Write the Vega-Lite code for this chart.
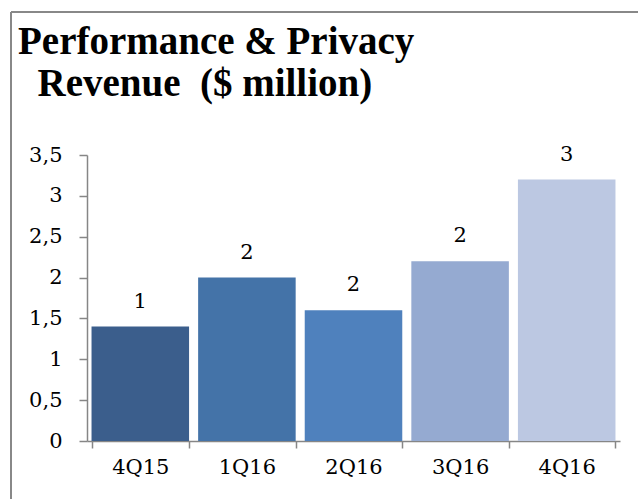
{
  "$schema": "https://vega.github.io/schema/vega-lite/v6.json",
  "width": 627,
  "height": 487,
  "autosize": {"type": "none"},
  "padding": {"left": 11, "top": 12, "right": 0, "bottom": 0},
  "background": "white",
  "config": {
    "view": {"stroke": "#888888", "strokeWidth": 2, "strokeDash": [627, 1114, 487, 0]}
  },
  "title": {
    "text": ["Performance & Privacy", "\u200b\u00a0\u00a0Revenue\u00a0\u00a0($ million)"],
    "anchor": "start",
    "frame": "group",
    "orient": "top",
    "baseline": "alphabetic",
    "offset": -40,
    "dx": 7,
    "dy": 83,
    "font": "Liberation Serif",
    "fontSize": 39,
    "fontWeight": "bold",
    "color": "#000000",
    "lineHeight": 42
  },
  "data": {
    "values": [
      {"q": "4Q15", "v": 1.4},
      {"q": "1Q16", "v": 2.0},
      {"q": "2Q16", "v": 1.6},
      {"q": "3Q16", "v": 2.2},
      {"q": "4Q16", "v": 3.2}
    ]
  },
  "encoding": {
    "x": {
      "field": "q",
      "type": "nominal",
      "sort": null,
      "scale": {"range": [76, 609], "paddingInner": 0.085, "paddingOuter": 0.0425},
      "axis": {
        "orient": "bottom",
        "offset": -58,
        "title": null,
        "labelAngle": 0,
        "tickBand": "extent",
        "tickSize": 7,
        "tickColor": "#868686",
        "domainColor": "#868686",
        "domainWidth": 1.5,
        "tickWidth": 1.5,
        "labelFont": "DejaVu Serif",
        "labelFontSize": 21,
        "labelColor": "#000000",
        "labelPadding": 8,
        "grid": false
      }
    },
    "y": {
      "field": "v",
      "type": "quantitative",
      "scale": {"domain": [0, 3.5], "range": [429, 143], "nice": false, "zero": true},
      "axis": {
        "orient": "left",
        "offset": -76,
        "title": null,
        "values": [0, 0.5, 1, 1.5, 2, 2.5, 3, 3.5],
        "format": "~g",
        "labelExpr": "replace(datum.label, '.', ',')",
        "tickSize": 8,
        "tickColor": "#868686",
        "domainColor": "#868686",
        "domainWidth": 1.5,
        "tickWidth": 1.5,
        "labelFont": "DejaVu Serif",
        "labelFontSize": 21,
        "labelColor": "#000000",
        "labelPadding": 17,
        "grid": false
      }
    }
  },
  "layer": [
    {
      "mark": {"type": "bar"},
      "encoding": {
        "color": {
          "field": "q",
          "type": "nominal",
          "scale": {
            "domain": ["4Q15", "1Q16", "2Q16", "3Q16", "4Q16"],
            "range": ["#3B5E8C", "#4473A8", "#4F81BD", "#95AAD1", "#BCC8E2"]
          },
          "legend": null
        }
      }
    },
    {
      "mark": {
        "type": "text",
        "baseline": "alphabetic",
        "dy": -19,
        "font": "DejaVu Serif",
        "fontSize": 21,
        "color": "#000000"
      },
      "encoding": {
        "text": {"field": "v", "type": "quantitative", "format": ".0f"}
      }
    }
  ]
}
